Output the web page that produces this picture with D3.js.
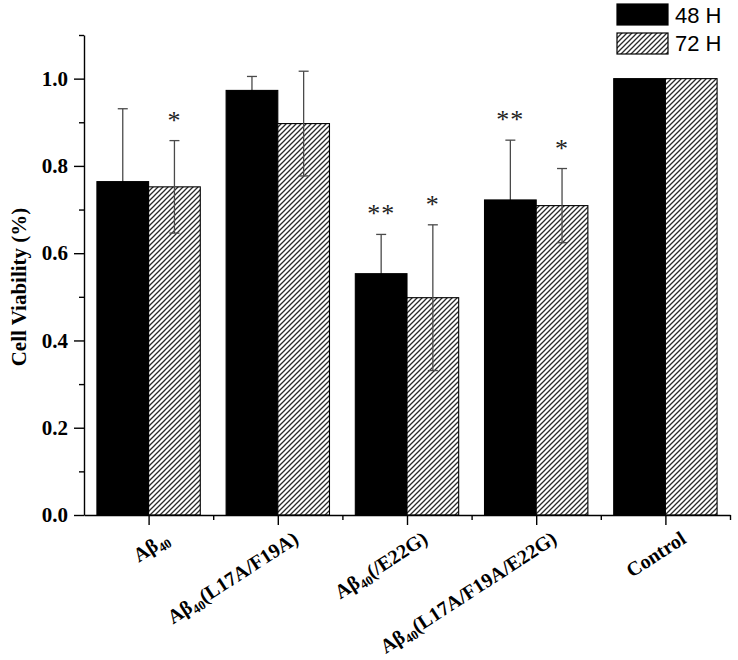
<!DOCTYPE html>
<html>
<head>
<meta charset="utf-8">
<script src="https://cdn.jsdelivr.net/npm/d3@7/dist/d3.min.js"></script>
<style>
  html, body { margin: 0; padding: 0; background: #fff; }
  svg { display: block; }
</style>
</head>
<body>
<svg id="chart" width="738" height="660"></svg>
<script>
// ---- data ----
const categories = ["Aβ40", "Aβ40(L17A/F19A)", "Aβ40(/E22G)", "Aβ40(L17A/F19A/E22G)", "Control"];
const seriesNames = ["48 H", "72 H"];
const values48 = [0.764, 0.973, 0.553, 0.722, 1.0];
const errors48 = [0.167, 0.032, 0.090, 0.137, 0];
const values72 = [0.752, 0.897, 0.498, 0.709, 1.0];
const errors72 = [0.106, 0.120, 0.167, 0.085, 0];
const signif48 = ["", "", "**", "**", ""];
const signif72 = ["*", "", "*", "*", ""];
const yTickValues = [0, 0.2, 0.4, 0.6, 0.8, 1.0];
const yMinorValues = [0.1, 0.3, 0.5, 0.7, 0.9, 1.1];
const yLabel = "Cell Viability (%)";

// ---- layout ----
const svg = d3.select("#chart");
const x = d3.scaleLinear().domain([0.5, categories.length + 0.5]).range([84, 730]);
const y = d3.scaleLinear().domain([0, 1.1]).range([515, 35]);
const barW = 0.4; // in category units

const defs = svg.append("defs");
const pat = defs.append("pattern")
  .attr("id", "hatch")
  .attr("patternUnits", "userSpaceOnUse")
  .attr("width", 5).attr("height", 5);
pat.append("rect").attr("width", 5).attr("height", 5).attr("fill", "#fff");
pat.append("path")
  .attr("d", "M-1,1 L1,-1 M0,5 L5,0 M4,6 L6,4")
  .attr("stroke", "#2a2a2a").attr("stroke-width", 1.3);

const serif = "'Liberation Serif','Times New Roman',serif";
const sans = "'Liberation Sans',Arial,sans-serif";

const series = [
  { name: seriesNames[0], vals: values48, errs: errors48, sig: signif48, off: -barW / 2, fill: "#000" },
  { name: seriesNames[1], vals: values72, errs: errors72, sig: signif72, off: barW / 2, fill: "url(#hatch)" }
];

const g = svg.append("g");
series.forEach(s => {
  const data = categories.map((c, i) => ({ i: i + 1, v: s.vals[i], e: s.errs[i], sig: s.sig[i] }));
  const cx = d => x(d.i + s.off);
  const eb = g.append("g").attr("class", "err")
    .attr("stroke", "#4a4a4a").attr("stroke-width", 1.3);
  const drawErr = (sel) => {
    const ed = data.filter(d => d.e > 0);
    sel.selectAll("line.v").data(ed).join("line").attr("class", "v")
      .attr("x1", cx).attr("x2", cx)
      .attr("y1", d => y(d.v - d.e)).attr("y2", d => y(d.v + d.e));
    sel.selectAll("line.ct").data(ed).join("line").attr("class", "ct")
      .attr("x1", d => cx(d) - 5).attr("x2", d => cx(d) + 5)
      .attr("y1", d => y(d.v + d.e)).attr("y2", d => y(d.v + d.e));
    sel.selectAll("line.cb").data(ed).join("line").attr("class", "cb")
      .attr("x1", d => cx(d) - 5).attr("x2", d => cx(d) + 5)
      .attr("y1", d => y(d.v - d.e)).attr("y2", d => y(d.v - d.e));
  };
  if (s.fill === "#000") drawErr(eb);
  g.append("g").selectAll("rect").data(data).join("rect")
    .attr("x", d => x(d.i + s.off - barW / 2))
    .attr("width", d => x(d.i + s.off + barW / 2) - x(d.i + s.off - barW / 2))
    .attr("y", d => y(d.v))
    .attr("height", d => y(0) - y(d.v))
    .attr("fill", s.fill)
    .attr("stroke", "#000").attr("stroke-width", 1.1);
  if (s.fill !== "#000") { eb.raise(); drawErr(eb); }
  g.append("g").selectAll("text").data(data.filter(d => d.sig)).join("text")
    .attr("x", cx)
    .attr("y", d => y(d.v + d.e) - 12)
    .attr("text-anchor", "middle")
    .attr("font-family", serif).attr("font-size", 26)
    .attr("letter-spacing", 1)
    .attr("fill", "#222")
    .text(d => d.sig);
});

// ---- axes ----
const yAxis = d3.axisLeft(y).tickValues(yTickValues).tickFormat(d3.format(".1f"))
  .tickSize(10).tickSizeOuter(0).tickPadding(6);
const yAx = svg.append("g").attr("transform", `translate(${x(0.5)},0)`).call(yAxis);
const yMinor = svg.append("g").attr("transform", `translate(${x(0.5)},0)`)
  .call(d3.axisLeft(y).tickValues(yMinorValues).tickFormat("").tickSize(5).tickSizeOuter(0));
yMinor.select(".domain").remove();

const xAxis = d3.axisBottom(x).tickValues(categories.map((c, i) => i + 1)).tickFormat("")
  .tickSize(10).tickSizeOuter(0);
const xAx = svg.append("g").attr("transform", `translate(0,${y(0)})`).call(xAxis);
const xMinor = svg.append("g").attr("transform", `translate(0,${y(0)})`)
  .call(d3.axisBottom(x).tickValues(categories.map((c, i) => i + 1.5)).tickFormat("").tickSize(5).tickSizeOuter(0));
xMinor.select(".domain").remove();

svg.selectAll(".domain, .tick line").attr("stroke", "#000").attr("stroke-width", 1.4);
yAx.selectAll(".tick text")
  .attr("font-family", serif).attr("font-weight", "bold").attr("font-size", 21).attr("fill", "#000");

// x category labels, rotated, with subscript 40
categories.forEach((c, i) => {
  const t = svg.append("text")
    .attr("transform", `translate(${x(i + 1) + 22},${y(0) + 27}) rotate(-33)`)
    .attr("text-anchor", "end")
    .attr("font-family", serif).attr("font-weight", "bold").attr("font-size", 20)
    .attr("fill", "#000");
  const m = c.match(/^(Aβ)(40)(.*)$/);
  if (m) {
    t.append("tspan").text(m[1]);
    t.append("tspan").attr("font-size", 13).attr("dy", 4).text(m[2]);
    if (m[3]) t.append("tspan").attr("dy", -4).text(m[3]);
  } else {
    t.text(c);
  }
});

// y label
svg.append("text")
  .attr("transform", `translate(26,${(y(0) + y(1.1)) / 2 + 12}) rotate(-90)`)
  .attr("text-anchor", "middle")
  .attr("font-family", serif).attr("font-weight", "bold").attr("font-size", 21)
  .attr("fill", "#000")
  .text(yLabel);

// legend
const leg = svg.append("g");
series.forEach((s, k) => {
  leg.append("rect")
    .attr("x", 617).attr("y", 4 + k * 29).attr("width", 51).attr("height", 21)
    .attr("fill", s.fill).attr("stroke", "#000").attr("stroke-width", 1.2);
  leg.append("text")
    .attr("x", 675).attr("y", 23 + k * 28)
    .attr("font-family", sans).attr("font-size", 22).attr("fill", "#000")
    .text(s.name);
});
</script>
</body>
</html>
